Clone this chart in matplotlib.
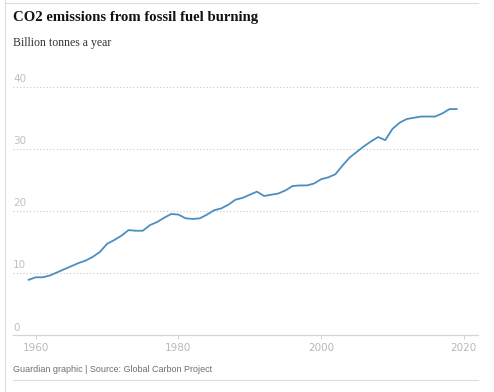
import matplotlib.pyplot as plt
from matplotlib.lines import Line2D

years = list(range(1959, 2020))
emissions = [8.9, 9.3, 9.3, 9.6, 10.1, 10.6, 11.1, 11.6, 12.0, 12.6,
             13.4, 14.7, 15.3, 16.0, 16.9, 16.8, 16.8, 17.7, 18.2, 18.9,
             19.5, 19.4, 18.8, 18.7, 18.8, 19.4, 20.1, 20.4, 21.0, 21.8,
             22.1, 22.6, 23.1, 22.4, 22.6, 22.8, 23.3, 24.0, 24.1, 24.1,
             24.4, 25.1, 25.4, 25.9, 27.3, 28.6, 29.5, 30.4, 31.2, 31.9,
             31.4, 33.2, 34.2, 34.8, 35.0, 35.2, 35.2, 35.2, 35.7, 36.4, 36.4]
y_ticks = [0, 10, 20, 30, 40]
x_ticks = [1960, 1980, 2000, 2020]

W, H = 494, 392
fig = plt.figure(figsize=(W / 100, H / 100), dpi=100)
ax = fig.add_axes([13 / W, 1 - 335 / H, (478 - 13) / W, (335 - 70) / H])

ax.plot(years, emissions, color='#4b8fc0', lw=1.3, solid_joinstyle='round')
ax.set_xlim(1956.8, 2022.0)
ax.set_ylim(0, 42.7)

for v in y_ticks[1:]:
    ax.axhline(v, color='#c8c8c8', lw=0.8, ls=(0, (1, 2)), zorder=0)
for v in y_ticks:
    ax.text(0.0, v + 0.4, str(v), transform=ax.get_yaxis_transform(),
            ha='left', va='bottom', fontsize=7.5, color='#c0c0c0')

ax.set_yticks([])
ax.set_xticks(x_ticks)
ax.set_xticklabels([str(x) for x in x_ticks])
ax.tick_params(axis='x', length=3, width=0.6, color='#cccccc',
               labelcolor='#b8b8b8', labelsize=7.5, pad=3)
for s in ['top', 'right', 'left']:
    ax.spines[s].set_visible(False)
ax.spines['bottom'].set_color('#d5d5d5')
ax.spines['bottom'].set_linewidth(0.9)

# frame lines of the graphic
fig.add_artist(Line2D([5 / W, 5 / W], [0, 1], color='#dcdcdc', lw=0.8))
fig.add_artist(Line2D([5 / W, 478 / W], [1 - 3 / H, 1 - 3 / H], color='#dcdcdc', lw=0.8))
fig.add_artist(Line2D([13 / W, 478 / W], [1 - 380 / H, 1 - 380 / H], color='#dcdcdc', lw=0.8))

fig.text(13 / W, 1 - 18 / H, 'CO2 emissions from fossil fuel burning',
         fontsize=10.6, fontweight='bold', family='Liberation Serif',
         ha='left', va='center', color='#121212')
fig.text(13 / W, 1 - 43 / H, 'Billion tonnes a year', fontsize=8.5,
         family='Liberation Serif', ha='left', va='center', color='#333333')
fig.text(13 / W, 1 - 370 / H, 'Guardian graphic | Source: Global Carbon Project',
         fontsize=6.5, family='Liberation Sans', ha='left', va='center',
         color='#707070')

fig.savefig('out.png', dpi=100)
